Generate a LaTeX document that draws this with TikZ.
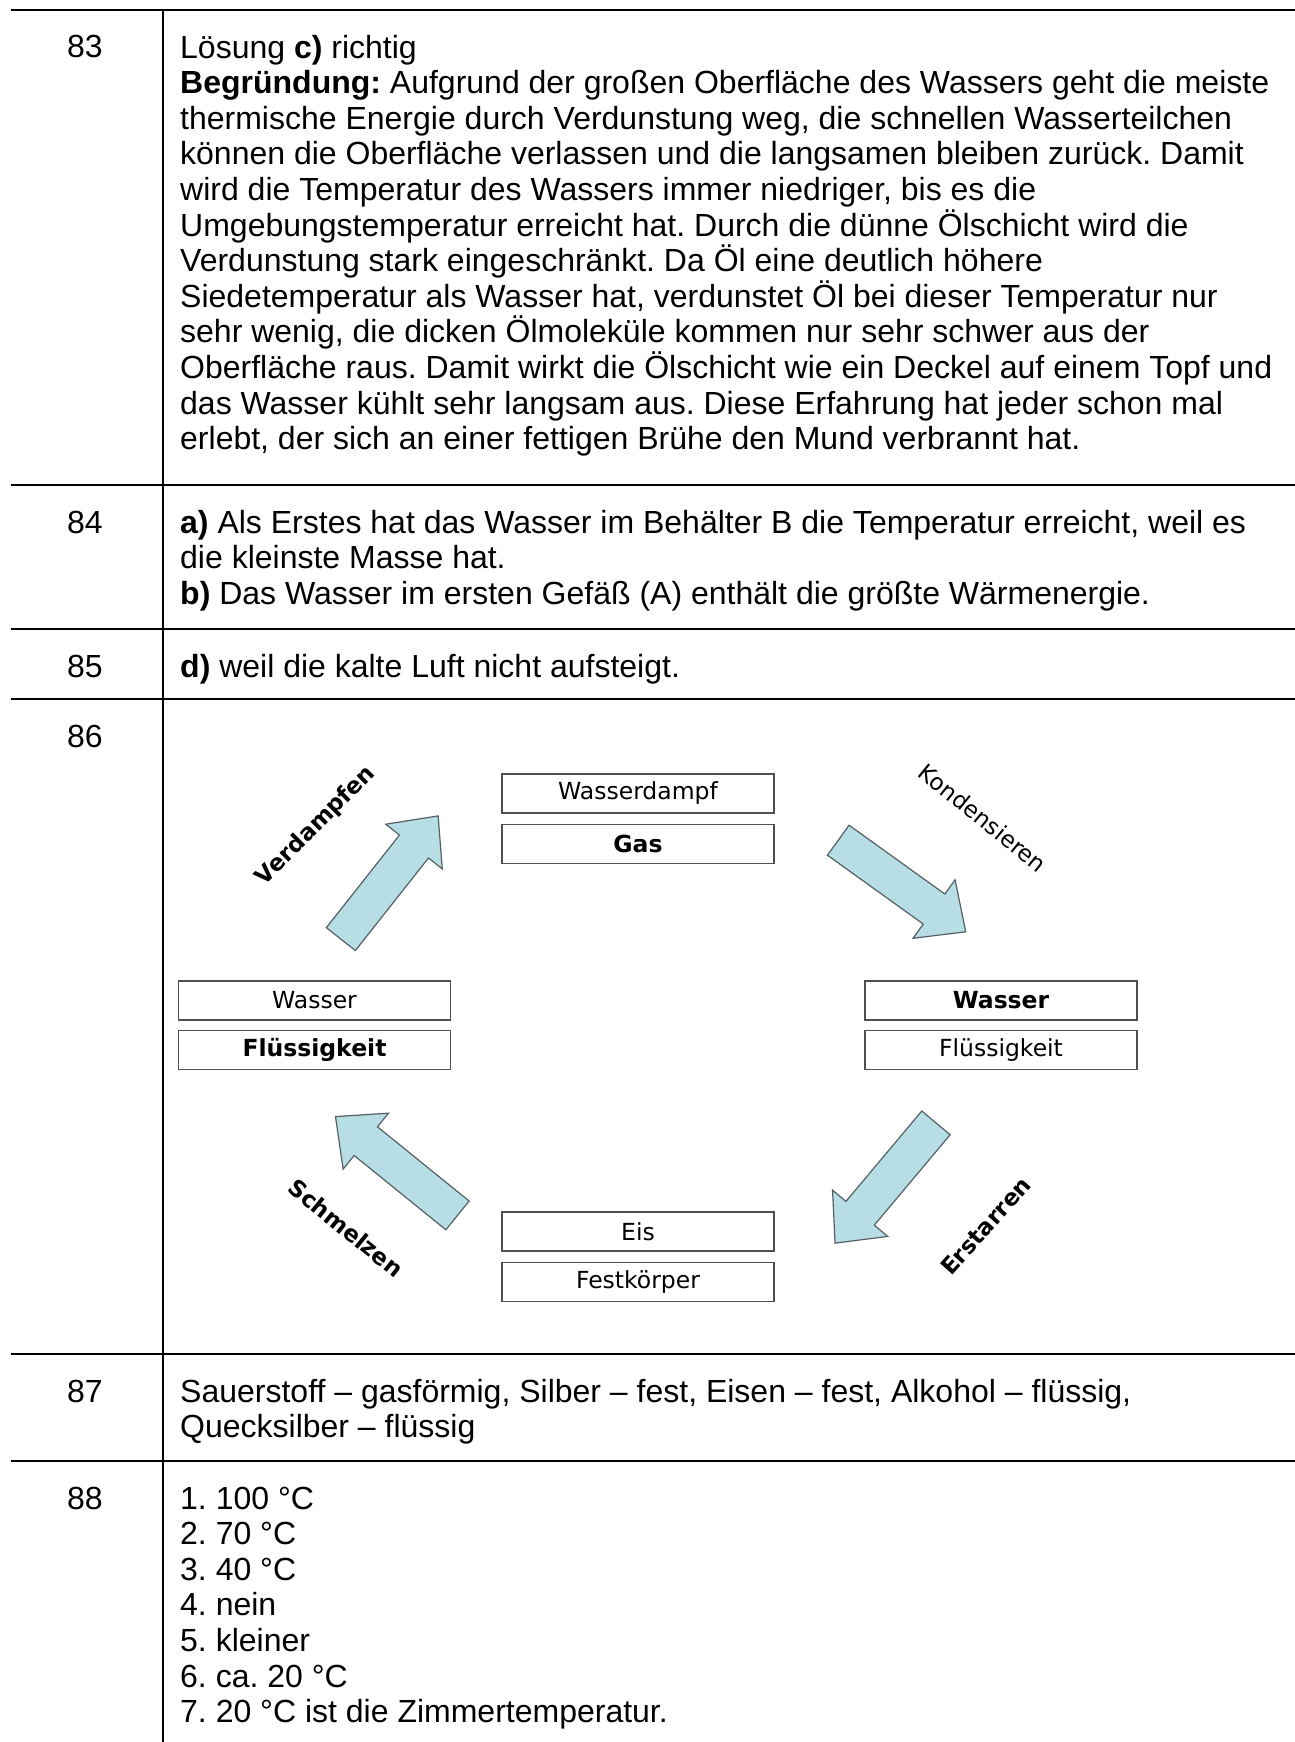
\documentclass[tikz,border=0pt]{standalone}
\usepackage{fontspec}
\setmainfont{Liberation Sans}
\newfontfamily\diafont{DejaVu Sans}
\definecolor{arrowblue}{RGB}{183,222,228}
\definecolor{arrowedge}{RGB}{85,95,100}
\definecolor{boxedge}{RGB}{80,80,80}
\frenchspacing
\begin{document}
\begin{tikzpicture}[x=1pt,y=-1pt,
  rule/.style={line width=2.9pt},
  body/.style={anchor=base west,inner sep=0pt,align=left,font=\fontsize{32}{35.6}\selectfont},
  num/.style={anchor=base,inner sep=0pt,font=\fontsize{32}{35.6}\selectfont},
  statebox/.style={draw=boxedge,line width=1.4pt,minimum width=272pt,minimum height=39pt,inner sep=0pt,font=\diafont\fontsize{23.5}{26}\selectfont},
  barrow/.style={draw=arrowedge,line width=1.2pt,fill=arrowblue,line join=miter},
  arrlabel/.style={inner sep=0pt,font=\diafont\fontsize{23}{26}\selectfont}
]
\useasboundingbox (0,0) rectangle (1295,1742);
% table rules
\draw[rule] (11,10) -- (1295,10);
\draw[rule] (11,485) -- (1295,485);
\draw[rule] (11,629) -- (1295,629);
\draw[rule] (11,699) -- (1295,699);
\draw[rule] (11,1354) -- (1295,1354);
\draw[rule] (11,1461) -- (1295,1461);
\draw[rule] (163,10) -- (163,1742);
% numbers
\node[num] (n83) at (85,58) {83};
\node[num] (n84) at (85,533) {84};
\node[num] (n85) at (85,677) {85};
\node[num] (n86) at (85,747) {86};
\node[num] (n87) at (85,1402) {87};
\node[num] (n88) at (85,1509) {88};
% row texts (base anchor = baseline of last line)
\node[body] (t83) at (180,449.6) {Lösung \textbf{c)} richtig\\
\textbf{Begründung:} Aufgrund der großen Oberfläche des Wassers geht die meiste\\
thermische Energie durch Verdunstung weg, die schnellen Wasserteilchen\\
können die Oberfläche verlassen und die langsamen bleiben zurück. Damit\\
wird die Temperatur des Wassers immer niedriger, bis es die\\
Umgebungstemperatur erreicht hat. Durch die dünne Ölschicht wird die\\
Verdunstung stark eingeschränkt. Da Öl eine deutlich höhere\\
Siedetemperatur als Wasser hat, verdunstet Öl bei dieser Temperatur nur\\
sehr wenig, die dicken Ölmoleküle kommen nur sehr schwer aus der\\
Oberfläche raus. Damit wirkt die Ölschicht wie ein Deckel auf einem Topf und\\
das Wasser kühlt sehr langsam aus. Diese Erfahrung hat jeder schon mal\\
erlebt, der sich an einer fettigen Brühe den Mund verbrannt hat.};
\node[body] (t84) at (180,604.2) {\textbf{a)} Als Erstes hat das Wasser im Behälter B die Temperatur erreicht, weil es\\
die kleinste Masse hat.\\
\textbf{b)} Das Wasser im ersten Gefäß (A) enthält die größte Wärmenergie.};
\node[body] (t85) at (180,677) {\textbf{d)} weil die kalte Luft nicht aufsteigt.};
\node[body] (t87) at (180,1437.6) {Sauerstoff – gasförmig, Silber – fest, Eisen – fest, Alkohol – flüssig,\\
Quecksilber – flüssig};
\node[body] (t88) at (180,1722.6) {1. 100 °C\\
2. 70 °C\\
3. 40 °C\\
4. nein\\
5. kleiner\\
6. ca. 20 °C\\
7. 20 °C ist die Zimmertemperatur.};
% diagram boxes
\node[statebox] (dampf) at (638,793.5) {Wasserdampf};
\node[statebox] (gas) at (638,844) {\bfseries Gas};
\node[statebox] (wl) at (314.5,1000.5) {Wasser};
\node[statebox] (fl) at (314.5,1050) {\bfseries Flüssigkeit};
\node[statebox] (wr) at (1001,1000.5) {\bfseries Wasser};
\node[statebox] (fr) at (1001,1050) {Flüssigkeit};
\node[statebox] (eis) at (638,1231.5) {Eis};
\node[statebox] (fest) at (638,1282) {Festkörper};
% block arrows
\foreach \cx/\cy/\ang in {389.5/877.5/51.7, 902/886/-35.7, 396.5/1166/141, 885.5/1183/-130}{
  \begin{scope}[shift={(\cx,\cy)},rotate=\ang]
    \draw[barrow] (-78.5,-18.5) -- (39.5,-18.5) -- (39.5,-36) -- (78.5,0) -- (39.5,36) -- (39.5,18.5) -- (-78.5,18.5) -- cycle;
  \end{scope}
}
% arrow labels
\node[arrlabel,rotate=45] (lverd) at (316,826) {\bfseries Verdampfen};
\node[arrlabel,rotate=-39] (lkond) at (983,818) {Kondensieren};
\node[arrlabel,rotate=-39] (lschm) at (346,1228) {\bfseries Schmelzen};
\node[arrlabel,rotate=48] (lerst) at (986,1226) {\bfseries Erstarren};
\end{tikzpicture}
\end{document}
